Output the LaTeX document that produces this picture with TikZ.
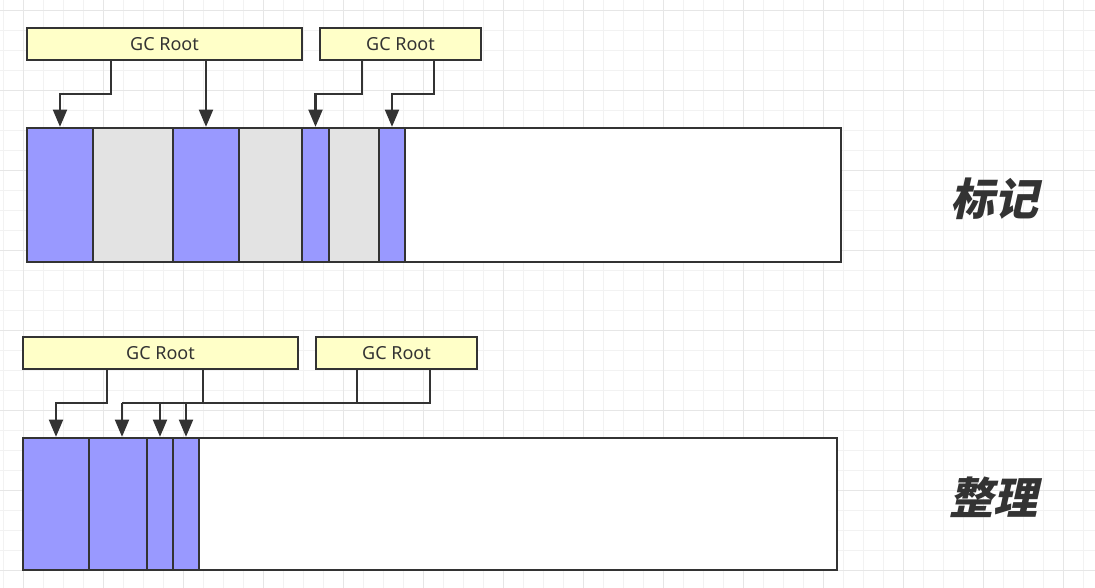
\documentclass[tikz,border=0pt]{standalone}
\usepackage{fontspec}
\newfontfamily\uifont{Noto Sans}
\newfontfamily\cjk[FakeSlant=0.22]{Noto Sans CJK SC}
\usetikzlibrary{arrows.meta,fit}
\definecolor{lineC}{HTML}{333333}
\definecolor{purpleC}{HTML}{9999FF}
\definecolor{greyC}{HTML}{E3E3E3}
\definecolor{rootC}{HTML}{FFFFC8}
\definecolor{gridMinor}{HTML}{F2F2F2}
\definecolor{gridMajor}{HTML}{E6E6E6}
\tikzset{
  cellbox/.style={draw=lineC, line width=1.7pt, inner sep=0pt, rectangle},
  usedcell/.style={cellbox, fill=purpleC},
  deadcell/.style={cellbox, fill=greyC},
  freecell/.style={cellbox, fill=white},
  rootbox/.style={cellbox, fill=rootC},
  roottext/.style={font=\uifont\fontsize{13.5}{15}\selectfont, text=lineC},
  conn/.style={draw=lineC, line width=1.7pt},
  arr/.style={conn, -{Triangle[width=10.5pt,length=13pt]}},
  title/.style={font=\cjk\bfseries\fontsize{33}{36}\selectfont, text=lineC}
}
\begin{document}
\begin{tikzpicture}[x=0.75pt,y=-0.75pt]
\useasboundingbox (0,0) rectangle (1095,588);
\fill[white] (0,0) rectangle (1095,588);
% grid
\foreach \i in {3,23,...,1095} \draw[gridMinor, line width=0.6pt] (\i,0) -- (\i,588);
\foreach \j in {10,30,...,588} \draw[gridMinor, line width=0.6pt] (0,\j) -- (1095,\j);
\foreach \i in {23,103,...,1095} \draw[gridMajor, line width=0.6pt] (\i,0) -- (\i,588);
\foreach \j in {10,90,...,588} \draw[gridMajor, line width=0.6pt] (0,\j) -- (1095,\j);

% ---------- top: mark ----------
\node[rootbox, fit={(27,28) (302,60)}, label={[roottext]center:GC Root}] (r1) {};
\node[rootbox, fit={(320,28) (481,60)}, label={[roottext]center:GC Root}] (r2) {};

\node[freecell, fit={(27,128) (841,262)}] (bar1) {};
\node[usedcell, fit={(27,128) (93,262)}] (c1) {};
\node[deadcell, fit={(93,128) (173,262)}] (c2) {};
\node[usedcell, fit={(173,128) (239,262)}] (c3) {};
\node[deadcell, fit={(239,128) (302,262)}] (c4) {};
\node[usedcell, fit={(302,128) (329,262)}] (c5) {};
\node[deadcell, fit={(329,128) (379,262)}] (c6) {};
\node[usedcell, fit={(379,128) (405,262)}] (c7) {};

\coordinate (t1) at (111,94);
\coordinate (t3) at (362,94);
\coordinate (t4) at (434,94);
\draw[arr] (r1.south -| t1) -- (t1) -| (c1.north);
\draw[arr] (r1.south -| c3.north) -- (c3.north);
\draw[arr] (r2.south -| t3) -- (t3) -| (c5.north);
\draw[arr] (r2.south -| t4) -- (t4) -| (c7.north);

\node[title] (mark) at (994,199) {标记};

% ---------- bottom: compact ----------
\node[rootbox, fit={(23,337) (298,369)}, label={[roottext]center:GC Root}] (r3) {};
\node[rootbox, fit={(316,337) (477,369)}, label={[roottext]center:GC Root}] (r4) {};

\node[freecell, fit={(23,438) (837,570)}] (bar2) {};
\node[usedcell, fit={(23,438) (89,570)}] (d1) {};
\node[usedcell, fit={(89,438) (147,570)}] (d2) {};
\node[usedcell, fit={(147,438) (173,570)}] (d3) {};
\node[usedcell, fit={(173,438) (199,570)}] (d4) {};

\coordinate (j0) at (122,403);
\coordinate (j1) at (107,403);
\coordinate (j2) at (203,403);
\coordinate (j3) at (357,403);
\coordinate (j4) at (430,403);
\draw[arr] (r3.south -| j1) -- (j1) -| (d1.north);
\draw[conn] (r3.south -| j2) -- (j2);
\draw[conn, line width=1.2pt] (r4.south -| j3) -- (j3);
\draw[conn, line join=miter] (r4.south -| j4) -- (j4) -- (j0);
\draw[arr] (j0) -- (j0 |- d2.north);
\draw[arr] (d3.north |- j0) -- (d3.north);
\draw[arr] (d4.north |- j0) -- (d4.north);

\node[title] (compact) at (993,497) {整理};
\end{tikzpicture}
\end{document}
